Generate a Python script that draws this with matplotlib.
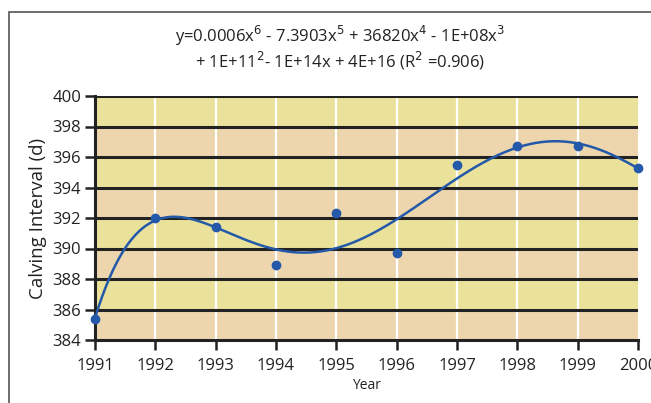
import numpy as np
import matplotlib
matplotlib.use('Agg')
import matplotlib.pyplot as plt
from matplotlib.patches import Rectangle

# Data
years = [1991, 1992, 1993, 1994, 1995, 1996, 1997, 1998, 1999, 2000]
calving = [385.4, 392.0, 391.4, 388.9, 392.3, 389.7, 395.5, 396.7, 396.7, 395.3]
y_ticks = [384, 386, 388, 390, 392, 394, 396, 398, 400]

yellow = '#EAE29B'
tan = '#EDD6AE'
blue = '#2458A8'

plt.rcParams['font.family'] = ['Open Sans', 'DejaVu Sans']

fig = plt.figure(figsize=(6.51, 4.03), dpi=100)
ax = fig.add_axes([95 / 651, 1 - 340 / 403, (638 - 95) / 651, (340 - 96) / 403])

# frame around the whole chart
fig.patches.append(Rectangle((9 / 651, -0.1), 1.2, 1 - 12 / 403 + 0.1, transform=fig.transFigure,
                             fill=False, edgecolor='#555555', linewidth=1.2))

# alternating bands
for i, lo in enumerate(y_ticks[:-1]):
    ax.axhspan(lo, lo + 2, color=tan if i % 2 == 0 else yellow, zorder=0, lw=0)

for yr in years[1:-1]:
    ax.axvline(yr, color='white', lw=1.6, zorder=1)
for yv in y_ticks[1:]:
    ax.axhline(yv, color='#222222', lw=2.2, zorder=1)

# 6th order polynomial trend line
t = np.array(years) - 1995.0
coef = np.polyfit(t, calving, 6)
xs = np.linspace(0, 9, 300) + 1991
ax.plot(xs, np.polyval(coef, xs - 1995.0), color=blue, lw=1.8, zorder=3)
ax.plot(years, calving, 'o', color=blue, ms=6, zorder=4, clip_on=False)

ax.set_xlim(1991, 2000)
ax.set_ylim(384, 400)
ax.set_xticks(years)
ax.set_yticks(y_ticks)
ax.tick_params(labelsize=12, length=7, width=1.8, color='#222222', labelcolor='#222222', pad=3)
ax.tick_params(axis='x', pad=6)
for s in ['top', 'right']:
    ax.spines[s].set_visible(False)
for s in ['left', 'bottom']:
    ax.spines[s].set_linewidth(2.2)
    ax.spines[s].set_color('#222222')

ax.set_ylabel('Calving Interval (d)', fontsize=13.5, labelpad=4, color='#222222')
ax.set_xlabel('Year', fontsize=10, labelpad=3, color='#222222')

fig.text(340 / 651, 1 - 36 / 403,
         r'y=0.0006x$^{6}$ - 7.3903x$^{5}$ + 36820x$^{4}$ - 1E+08x$^{3}$',
         ha='center', va='center', fontsize=12, color='#222222')
fig.text(340 / 651, 1 - 61 / 403,
         r'+ 1E+11$^{2}$- 1E+14x + 4E+16 (R$^{2}$ =0.906)',
         ha='center', va='center', fontsize=12, color='#222222')

fig.savefig('out.png', dpi=100)
